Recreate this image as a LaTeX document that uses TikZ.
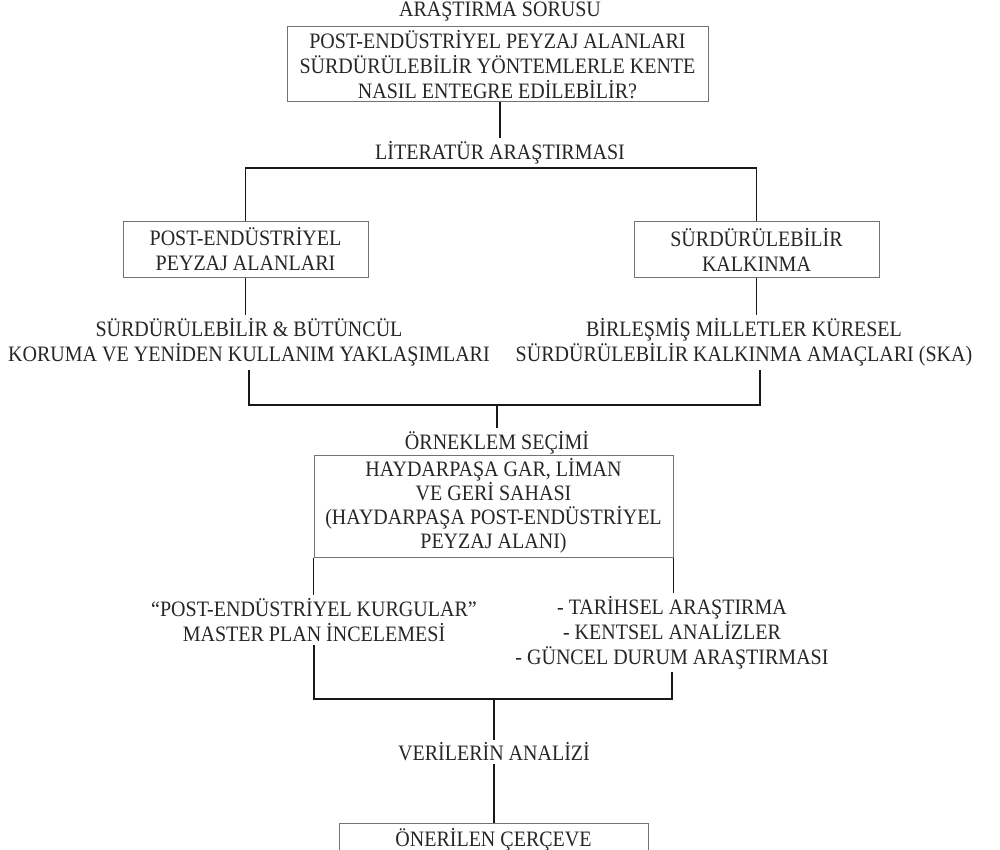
\documentclass[tikz,border=0pt]{standalone}
\usepackage{fontspec}
\setmainfont{Liberation Serif}[FakeStretch=0.91]
\usetikzlibrary{positioning}

\begin{document}
\begin{tikzpicture}[x=1pt, y=-1pt,
  every node/.style={font=\fontsize{22}{25}\selectfont, text=black!85, align=center, inner xsep=0pt, inner ysep=3pt},
  box/.style={rectangle, draw=black!55, line width=1pt, inner sep=0pt},
  link/.style={line width=1.6pt, draw=black!90}]

\useasboundingbox (0,0) rectangle (1000,850);
\clip (0,0) rectangle (1000,850);

% Nodes 
\node at (500, 12) (qlab) {ARAŞTIRMA SORUSU} ; 
\node[box, minimum width=421pt, minimum height=75pt] at (497.5, 64.5) (q) {POST-ENDÜSTRİYEL PEYZAJ ALANLARI\\SÜRDÜRÜLEBİLİR YÖNTEMLERLE KENTE\\NASIL ENTEGRE EDİLEBİLİR?} ; 
\node at (500, 153) (lit) {LİTERATÜR ARAŞTIRMASI} ; 
\node[box, minimum width=245pt, minimum height=55pt] at (245.5, 249.5) (lb) {POST-ENDÜSTRİYEL\\PEYZAJ ALANLARI} ; 
\node[box, minimum width=245pt, minimum height=55pt] at (756.5, 249.5) (rb) {SÜRDÜRÜLEBİLİR\\KALKINMA} ; 
\node at (249, 342.5) (lt) {SÜRDÜRÜLEBİLİR \& BÜTÜNCÜL\\KORUMA VE YENİDEN KULLANIM YAKLAŞIMLARI} ; 
\node at (744, 342.5) (rt) {BİRLEŞMİŞ MİLLETLER KÜRESEL\\SÜRDÜRÜLEBİLİR KALKINMA AMAÇLARI (SKA)} ; 
\node at (497, 443) (sel) {ÖRNEKLEM SEÇİMİ} ; 
\node[box, font=\fontsize{22}{24}\selectfont, minimum width=359pt, minimum height=102pt] at (493.5, 506) (s) {HAYDARPAŞA GAR, LİMAN\\VE GERİ SAHASI\\(HAYDARPAŞA POST-ENDÜSTRİYEL\\PEYZAJ ALANI)} ; 
\node at (314, 620) (m) {“POST-ENDÜSTRİYEL KURGULAR”\\MASTER PLAN İNCELEMESİ} ; 
\node at (672, 632.5) (h) {- TARİHSEL ARAŞTIRMA\\- KENTSEL ANALİZLER\\- GÜNCEL DURUM ARAŞTIRMASI} ; 
\node at (494, 752) (an) {VERİLERİN ANALİZİ} ; 
\node[box, anchor=north, minimum width=309pt, inner ysep=5pt, text depth=50pt] at (493.5, 823) (f) {ÖNERİLEN ÇERÇEVE} ; 

\coordinate (j1) at (500, 168) ; 
\coordinate (j2) at (497, 405) ; 
\coordinate (j3) at (494, 699) ; 

% Lines 
\draw[link] (lit.north |- q.south) -- (lit.north) ; 
\draw[link] (lb.north) -- (lb.north |- j1) -- (rb.north |- j1) -- (rb.north) ; 
\draw[link] (lb.south) -- (lb.south |- lt.north) ; 
\draw[link] (rb.south) -- (rb.south |- rt.north) ; 
\draw[link] (lt.south) |- (j2) -| ([xshift=16pt]rt.south) ; 
\draw[link] (j2) -- (sel.north) ; 
\draw[link] (s.south west) -- (s.south west |- m.north) ; 
\draw[link] (s.south east) -- (s.south east |- h.north) ; 
\draw[link] (m.south) |- (j3) -| (h.south) ; 
\draw[link] (j3) -- (an.north) ; 
\draw[link] (an.south) -- (an.south |- f.north) ; 

\end{tikzpicture}
\end{document}
